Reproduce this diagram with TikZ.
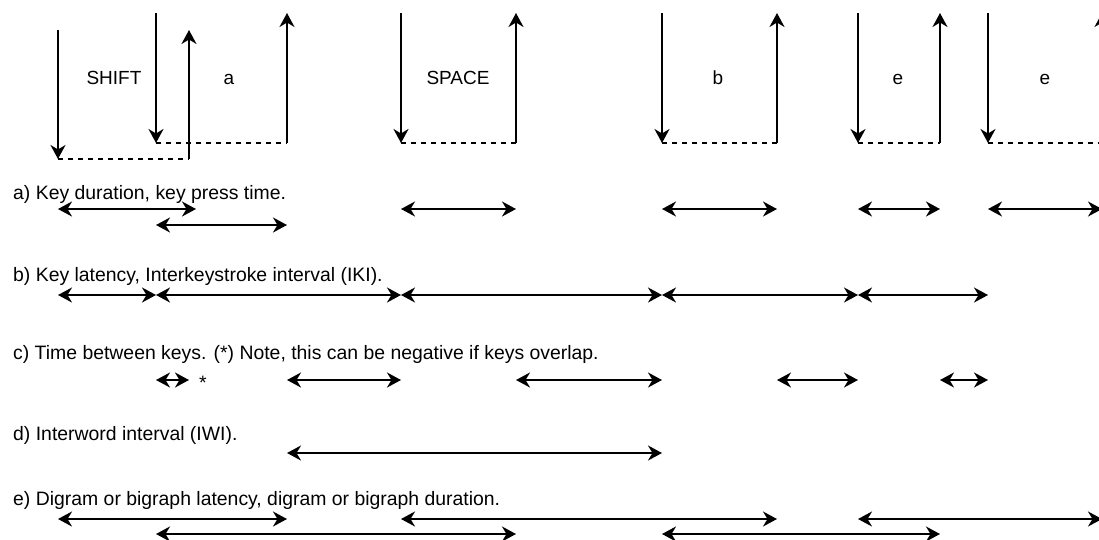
\documentclass[tikz,border=0pt]{standalone}
\usepackage{fontspec}
\setmainfont{Liberation Sans}
\usetikzlibrary{arrows.meta}
\tikzset{
  hd/.tip={Stealth[length=14pt,width=15pt,inset=4.5pt]},
  keyline/.style={line width=2pt, -hd},
  gapline/.style={line width=1.4pt, dash pattern=on 5pt off 5pt},
  span/.style={line width=2pt, hd-hd},
  caption/.style={anchor=base west, inner sep=0pt, font=\fontsize{19.4}{23}\selectfont},
  keylabel/.style={anchor=base, inner sep=0pt, font=\fontsize{19}{23}\selectfont},
}
\begin{document}
\begin{tikzpicture}[x=1pt,y=-1pt]
\useasboundingbox (0,0) rectangle (1099,539);
% key events: D = press (down), U = release (up); 0 = top, 1 = bottom
\coordinate (sD0) at (58,30);   \coordinate (sD1) at (58,159);
\coordinate (sU1) at (189,159); \coordinate (sU0) at (189,30);
\coordinate (aD0) at (156,13);  \coordinate (aD1) at (156,143);
\coordinate (aU1) at (287,143); \coordinate (aU0) at (287,13);
\coordinate (pD0) at (401,13);  \coordinate (pD1) at (401,143);
\coordinate (pU1) at (516,143); \coordinate (pU0) at (516,13);
\coordinate (bD0) at (662,13);  \coordinate (bD1) at (662,143);
\coordinate (bU1) at (777,143); \coordinate (bU0) at (777,13);
\coordinate (eD0) at (858,13);  \coordinate (eD1) at (858,143);
\coordinate (eU1) at (940,143); \coordinate (eU0) at (940,13);
\coordinate (fD0) at (988,13);  \coordinate (fD1) at (988,143);
\coordinate (fU1) at (1102,143); \coordinate (fU0) at (1102,13);

\foreach \k in {s,a,p,b,e,f}{
  \draw[keyline] (\k D0) -- (\k D1);
  \draw[gapline] (\k D1) -- (\k U1);
  \draw[keyline] (\k U1) -- (\k U0);
}

\node[keylabel] (lshift) at (114,84) {SHIFT};
\node[keylabel] (la) at (229,84) {a};
\node[keylabel] (lspace) at (458,84) {SPACE};
\node[keylabel] (lb) at (718,84) {b};
\node[keylabel] (le1) at (898,84) {e};
\node[keylabel] (le2) at (1045,84) {e};

% rows
\coordinate (ra1) at (0,209);
\coordinate (ra2) at (0,225);
\coordinate (rb) at (0,295);
\coordinate (rc) at (0,380);
\coordinate (rd) at (0,453);
\coordinate (re1) at (0,519);
\coordinate (re2) at (0,534);

\node[caption] (ta) at (13,199) {a) Key duration, key press time.};
\node[caption] (tb) at (13,281.5) {b) Key latency, Interkeystroke interval (IKI).};
\node[caption] (tc) at (13,359.5) {c) Time between keys. (*) Note, this can be negative if keys overlap.};
\node[caption] (td) at (13,440) {d) Interword interval (IWI).};
\node[caption] (te) at (13,505) {e) Digram or bigraph latency, digram or bigraph duration.};

% a) key duration
\draw[span] (sD1 |- ra1) -- ([xshift=7pt]sU1 |- ra1);
\draw[span] (aD1 |- ra2) -- (aU1 |- ra2);
\draw[span] (pD1 |- ra1) -- (pU1 |- ra1);
\draw[span] (bD1 |- ra1) -- (bU1 |- ra1);
\draw[span] (eD1 |- ra1) -- (eU1 |- ra1);
\draw[span] (fD1 |- ra1) -- (fU1 |- ra1);

% b) key latency
\draw[span] (sD1 |- rb) -- (aD1 |- rb);
\draw[span] (aD1 |- rb) -- (pD1 |- rb);
\draw[span] (pD1 |- rb) -- (bD1 |- rb);
\draw[span] (bD1 |- rb) -- (eD1 |- rb);
\draw[span] (eD1 |- rb) -- (fD1 |- rb);

% c) time between keys
\draw[span] (aD1 |- rc) -- (sU1 |- rc);
\node[anchor=base, inner sep=0pt, font=\fontsize{19.4}{23}\selectfont] (star) at (203,389) {*};
\draw[span] (aU1 |- rc) -- (pD1 |- rc);
\draw[span] (pU1 |- rc) -- (bD1 |- rc);
\draw[span] (bU1 |- rc) -- (eD1 |- rc);
\draw[span] (eU1 |- rc) -- (fD1 |- rc);

% d) interword interval
\draw[span] (aU1 |- rd) -- (bD1 |- rd);

% e) digram latency / duration
\draw[span] (sD1 |- re1) -- (aU1 |- re1);
\draw[span] (pD1 |- re1) -- (bU1 |- re1);
\draw[span] (eD1 |- re1) -- (fU1 |- re1);
\draw[span] (aD1 |- re2) -- (pU1 |- re2);
\draw[span] (bD1 |- re2) -- (eU1 |- re2);
\end{tikzpicture}
\end{document}
